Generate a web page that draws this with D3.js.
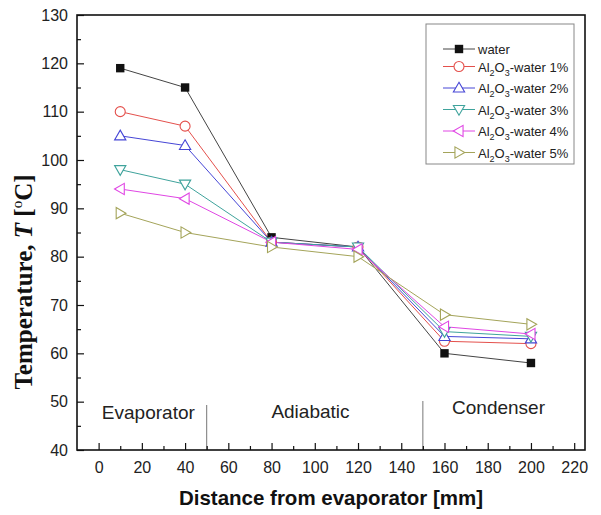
<!DOCTYPE html>
<html>
<head>
<meta charset="utf-8">
<script src="https://cdn.jsdelivr.net/npm/d3@7"></script>
<style>
  body { margin: 0; background: #fff; }
  text { font-family: Arial, "Liberation Sans", sans-serif; }
</style>
</head>
<body>
<svg id="chart"></svg>
<script>
// distances along the heat pipe (mm)
const distances = [10, 40, 80, 120, 160, 200];

// wall temperatures (°C)
const water = [119, 115, 84, 82, 60, 58];
const al1 = [110, 107, 83, 82, 62.5, 62];
const al2 = [105, 103, 83, 82, 63.5, 63];
const al3 = [98, 95, 83, 82, 64.5, 63.5];
const al4 = [94, 92, 83, 81.5, 65.5, 64];
const al5 = [89, 85, 82, 80, 68, 66];

const seriesLabels = ["water", "1%", "2%", "3%", "4%", "5%"];
const seriesValues = [water, al1, al2, al3, al4, al5];

const xTicks = [0, 20, 40, 60, 80, 100, 120, 140, 160, 180, 200, 220];
const xMinor = [10, 30, 50, 70, 90, 110, 130, 150, 170, 190, 210];
const yTicks = [40, 50, 60, 70, 80, 90, 100, 110, 120, 130];
const yMinor = [45, 55, 65, 75, 85, 95, 105, 115, 125];

// section limits and where their names sit (mm)
const sectionBounds = [50, 150];
const sectionNames = ["Evaporator", "Adiabatic", "Condenser"];
const sectionLabelAt = [23, 98, 185];

const W = 601, H = 515;
const plotL = 77, plotR = 585, plotT = 15, plotB = 450;

const colors = ["#111", "#e4504c", "#4646d6", "#3fa39c", "#e046e4", "#a4a45a"];
const lineColors = ["#444", "#e4504c", "#4646d6", "#3fa39c", "#e046e4", "#a4a45a"];
const shapes = ["square", "circle", "up", "down", "left", "right"];

const svg = d3.select("#chart").attr("width", W).attr("height", H);

const x = d3.scaleLinear().domain([-10, 225]).range([plotL, plotR]);
const y = d3.scaleLinear().domain([40, 130]).range([plotB, plotT]);

// marker drawing
function marker(g, shape, color) {
  if (shape === "square") {
    g.append("rect").attr("x", -4.2).attr("y", -4.2).attr("width", 8.4).attr("height", 8.4)
      .attr("fill", color);
  } else if (shape === "circle") {
    g.append("circle").attr("r", 5).attr("fill", "#fff").attr("stroke", color).attr("stroke-width", 1.1);
  } else {
    const rot = { up: 0, down: 180, left: -90, right: 90 }[shape];
    g.append("path")
      .attr("d", d3.symbol().type(d3.symbolTriangle).size(55)())
      .attr("transform", `rotate(${rot}) translate(0,0.8)`)
      .attr("fill", "#fff").attr("stroke", color).attr("stroke-width", 1.1);
  }
}

// section dividers
const dividerTop = [405, 401];
sectionBounds.forEach((b, i) => {
  svg.append("line")
    .attr("x1", x(b)).attr("x2", x(b))
    .attr("y1", plotB).attr("y2", dividerTop[i])
    .attr("stroke", "#777").attr("stroke-width", 1);
});

const labelBase = [419, 418, 414];
sectionNames.forEach((n, i) => {
  svg.append("text")
    .attr("x", x(sectionLabelAt[i])).attr("y", labelBase[i])
    .attr("text-anchor", "middle")
    .attr("font-size", "19px").attr("fill", "#222")
    .text(n);
});

// lines and markers
const line = d3.line().x((d, i) => x(distances[i])).y(d => y(d));

seriesValues.forEach((vals, s) => {
  svg.append("path")
    .datum(vals)
    .attr("fill", "none")
    .attr("stroke", lineColors[s])
    .attr("stroke-width", 1)
    .attr("d", line);
});

seriesValues.forEach((vals, s) => {
  vals.forEach((v, i) => {
    const g = svg.append("g").attr("transform", `translate(${x(distances[i])},${y(v)})`);
    marker(g, shapes[s], colors[s]);
  });
});

// axes
svg.append("g").attr("transform", `translate(0,${plotB})`)
  .call(d3.axisBottom(x).tickValues(xTicks).tickSizeInner(-7).tickSizeOuter(0).tickPadding(12));
svg.append("g").attr("transform", `translate(0,${plotB})`)
  .call(d3.axisBottom(x).tickValues(xMinor).tickSizeInner(-4).tickSizeOuter(0).tickFormat(""));

svg.append("g").attr("transform", `translate(${plotL},0)`)
  .call(d3.axisLeft(y).tickValues(yTicks).tickSizeInner(-7).tickSizeOuter(0).tickPadding(9));
svg.append("g").attr("transform", `translate(${plotL},0)`)
  .call(d3.axisLeft(y).tickValues(yMinor).tickSizeInner(-4).tickSizeOuter(0).tickFormat(""));

svg.selectAll(".domain").remove();
svg.selectAll(".tick line").attr("stroke", "#111").attr("stroke-width", 1.2);
svg.selectAll(".tick text")
  .attr("font-size", "16px").attr("fill", "#222")
  .style("font-family", "Arial, 'Liberation Sans', sans-serif");

// frame
svg.append("rect")
  .attr("x", plotL).attr("y", plotT)
  .attr("width", plotR - plotL).attr("height", plotB - plotT)
  .attr("fill", "none").attr("stroke", "#111").attr("stroke-width", 1.6);

// axis titles
svg.append("text")
  .attr("x", (plotL + plotR) / 2).attr("y", 505)
  .attr("text-anchor", "middle")
  .attr("font-size", "20.5px").attr("font-weight", "bold").attr("fill", "#111")
  .text("Distance from evaporator [mm]");

const yt = svg.append("text")
  .attr("transform", "translate(32,282) rotate(-90)")
  .attr("text-anchor", "middle")
  .attr("font-size", "25px").attr("font-weight", "bold").attr("fill", "#111")
  .style("font-family", "'Times New Roman', 'Liberation Serif', serif");
yt.append("tspan").text("Temperature, ");
yt.append("tspan").attr("font-style", "italic").text("T");
yt.append("tspan").text(" [");
yt.append("tspan").attr("font-size", "15px").attr("font-weight", "normal").attr("dy", -10).text("o");
yt.append("tspan").attr("dy", 10).text("C]");

// legend
svg.append("rect")
  .attr("x", 426).attr("y", 24).attr("width", 148).attr("height", 140)
  .attr("fill", "#fff").attr("stroke", "#888").attr("stroke-width", 1);

const rowY = [49, 66.5, 88, 109.5, 131, 152.5];
seriesLabels.forEach((lab, s) => {
  const g = svg.append("g").attr("transform", `translate(0,${rowY[s]})`);
  g.append("line").attr("x1", 443).attr("x2", 475).attr("y1", 0).attr("y2", 0)
    .attr("stroke", lineColors[s]).attr("stroke-width", 1);
  const m = g.append("g").attr("transform", "translate(459,0)");
  marker(m, shapes[s], colors[s]);
  const t = g.append("text").attr("x", 478).attr("y", 5)
    .attr("font-size", "13px").attr("fill", "#222");
  if (s === 0) {
    t.text(lab);
  } else {
    t.append("tspan").text("Al");
    t.append("tspan").attr("font-size", "9px").attr("dy", 4).text("2");
    t.append("tspan").attr("dy", -4).text("O");
    t.append("tspan").attr("font-size", "9px").attr("dy", 4).text("3");
    t.append("tspan").attr("dy", -4).text("-water " + lab);
  }
});
</script>
</body>
</html>
